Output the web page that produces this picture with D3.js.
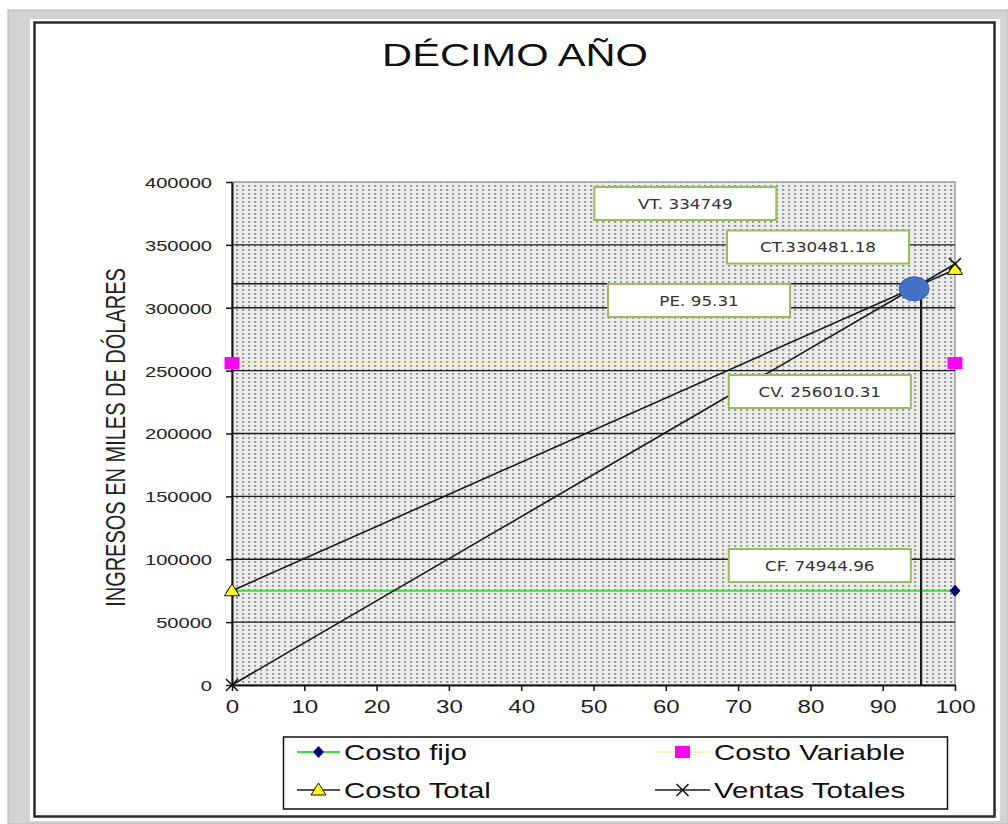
<!DOCTYPE html>
<html><head><meta charset="utf-8">
<script src="https://cdn.jsdelivr.net/npm/d3@7"></script>
<style>html,body{margin:0;padding:0;background:#fff}svg{display:block}</style>
</head><body>
<svg id="chart" width="1008" height="824"></svg>
<script>
// Punto de equilibrio, décimo año (miles de dólares)
const porcentajeVentas = [0, 100];
const costoFijo = [74944.96, 74944.96];
const costoVariable = [256010.31, 256010.31];
const costoTotal = [74944.96, 330481.18];
const ventasTotales = [0, 334749];
const puntoEquilibrioPct = 95.31;
const puntoEquilibrioIngreso = 319049;
const yTicks = [0, 50000, 100000, 150000, 200000, 250000, 300000, 350000, 400000];
const xTicks = [0, 10, 20, 30, 40, 50, 60, 70, 80, 90, 100];
const etiquetas = ["VT. 334749", "CT.330481.18", "PE. 95.31", "CV. 256010.31", "CF. 74944.96"];
const nombresSeries = ["Costo fijo", "Costo Variable", "Costo Total", "Ventas Totales"];

const svg = d3.select("#chart");
const FONT = "'Liberation Sans', Arial, sans-serif";
const SX = 1.34; // ensanchamiento horizontal del texto

// marco exterior
svg.append("rect").attr("x", 8).attr("y", 10).attr("width", 1000).attr("height", 814)
  .attr("fill", "#d3d3d3").attr("stroke", "#b8b8b8").attr("stroke-width", 1);
svg.append("rect").attr("x", 30).attr("y", 19).attr("width", 970).attr("height", 802).attr("fill", "#fff");
svg.append("rect").attr("x", 34.5).attr("y", 22.5).attr("width", 960).attr("height", 794)
  .attr("fill", "none").attr("stroke", "#2a2a2a").attr("stroke-width", 2.5);

const x = d3.scaleLinear().domain([0, 100]).range([232, 955]);
const y = d3.scaleLinear().domain([0, 400000]).range([685, 182]);

// trama punteada del área de trazado
const defs = svg.append("defs");
const pat = defs.append("pattern").attr("id", "puntos").attr("patternUnits", "userSpaceOnUse")
  .attr("width", 6).attr("height", 4);
pat.append("rect").attr("width", 6).attr("height", 4).attr("fill", "#ececec");
pat.append("rect").attr("x", 2).attr("y", 1).attr("width", 2.2).attr("height", 1.8).attr("fill", "#939393");

svg.append("rect").attr("x", x(0)).attr("y", y(400000)).attr("width", x(100) - x(0)).attr("height", y(0) - y(400000))
  .attr("fill", "url(#puntos)").attr("stroke", "#9a9a9a").attr("stroke-width", 1.5);

// líneas de cuadrícula
svg.append("g").selectAll("line").data(yTicks.filter(v => v > 0 && v < 400000)).join("line")
  .attr("x1", x(0)).attr("x2", x(100)).attr("y1", d => y(d)).attr("y2", d => y(d))
  .attr("stroke", "#1a1a1a").attr("stroke-width", 1.4);

// ejes
const gy = svg.append("g").attr("transform", `translate(${x(0)},0)`)
  .call(d3.axisLeft(y).tickValues(yTicks).tickSize(6).tickSizeOuter(0).tickFormat(d3.format("d")));
gy.select(".domain").attr("stroke", "#111").attr("stroke-width", 2);
gy.selectAll(".tick line").attr("stroke", "#111").attr("stroke-width", 1.5);
gy.selectAll(".tick text").attr("font-family", FONT).attr("font-size", 15).attr("fill", "#222")
  .attr("x", -20 / SX).attr("dy", "0.36em").attr("transform", `scale(${SX},1)`);

const gx = svg.append("g").attr("transform", `translate(0,${y(0)})`)
  .call(d3.axisBottom(x).tickValues(xTicks).tickSize(6).tickSizeOuter(0));
gx.select(".domain").attr("stroke", "#111").attr("stroke-width", 2);
gx.selectAll(".tick line").attr("stroke", "#111").attr("stroke-width", 1.5);
gx.selectAll(".tick text").attr("font-family", FONT).attr("font-size", 18).attr("fill", "#222")
  .attr("y", 28).attr("dy", "0").attr("transform", `scale(${SX},1)`);

// series
const series = [
  { nombre: nombresSeries[0], valores: costoFijo, color: "#2ee82e", ancho: 2, marca: "rombo" },
  { nombre: nombresSeries[1], valores: costoVariable, color: "#f4f07a", ancho: 1.2, marca: "cuadrado" },
  { nombre: nombresSeries[2], valores: costoTotal, color: "#1a1a1a", ancho: 1.6, marca: "triangulo" },
  { nombre: nombresSeries[3], valores: ventasTotales, color: "#1a1a1a", ancho: 1.6, marca: "equis" }
];
const linea = d3.line().x(d => x(d[0])).y(d => y(d[1]));
series.forEach(s => {
  svg.append("path").datum(porcentajeVentas.map((p, i) => [p, s.valores[i]]))
    .attr("d", linea).attr("fill", "none").attr("stroke", s.color).attr("stroke-width", s.ancho);
});

// punto de equilibrio: guías
svg.append("line").attr("x1", x(0)).attr("x2", x(puntoEquilibrioPct))
  .attr("y1", y(puntoEquilibrioIngreso)).attr("y2", y(puntoEquilibrioIngreso))
  .attr("stroke", "#1a1a1a").attr("stroke-width", 1.6);
svg.append("line").attr("x1", x(puntoEquilibrioPct)).attr("x2", x(puntoEquilibrioPct))
  .attr("y1", y(puntoEquilibrioIngreso)).attr("y2", y(0))
  .attr("stroke", "#1a1a1a").attr("stroke-width", 2.2);

// cuadros de texto (centro en coordenadas de datos)
const cuadros = [
  { texto: etiquetas[0], cx: 62.7, cy: 382900 },
  { texto: etiquetas[1], cx: 81.05, cy: 348300 },
  { texto: etiquetas[2], cx: 64.6, cy: 305800 },
  { texto: etiquetas[3], cx: 81.3, cy: 233400 },
  { texto: etiquetas[4], cx: 81.3, cy: 95000 }
];
const gc = svg.append("g").selectAll("g").data(cuadros).join("g")
  .attr("transform", d => `translate(${x(d.cx)},${y(d.cy)})`);
gc.append("rect").attr("x", -91).attr("y", -16.5).attr("width", 182).attr("height", 33)
  .attr("fill", "#fff").attr("stroke", "#9bbb59").attr("stroke-width", 2);
gc.append("text").text(d => d.texto).attr("text-anchor", "middle").attr("dy", "0.36em")
  .attr("font-family", "'DejaVu Sans', Verdana, sans-serif").attr("font-size", 14).attr("fill", "#333")
  .attr("transform", "scale(1.2,1)");

// marcadores
function marcador(g, tipo, cx, cy) {
  const m = g.append("g").attr("transform", `translate(${cx},${cy})`);
  if (tipo === "rombo") m.append("path").attr("d", "M0,-6L5.5,0L0,6L-5.5,0Z").attr("fill", "#000080");
  if (tipo === "cuadrado") m.append("rect").attr("x", -7.5).attr("y", -6).attr("width", 15).attr("height", 12).attr("fill", "#ff00ff");
  if (tipo === "triangulo") m.append("path").attr("d", "M0,-7L7.5,5L-7.5,5Z").attr("fill", "#ffff00").attr("stroke", "#111").attr("stroke-width", 1);
  if (tipo === "equis") m.append("path").attr("d", "M-6,-6L6,6M-6,6L6,-6").attr("stroke", "#111").attr("stroke-width", 1.5);
}
const gm = svg.append("g");
series.forEach(s => porcentajeVentas.forEach((p, i) => marcador(gm, s.marca, x(p), y(s.valores[i]))));

// punto de equilibrio
svg.append("ellipse").attr("cx", x(puntoEquilibrioPct) - 7).attr("cy", y(puntoEquilibrioIngreso) + 5)
  .attr("rx", 15).attr("ry", 12).attr("fill", "#4472c4").attr("stroke", "#3560ad").attr("stroke-width", 1);

// título
svg.append("text").text("DÉCIMO AÑO").attr("font-family", FONT).attr("font-size", 32).attr("fill", "#111")
  .attr("text-anchor", "middle").attr("transform", `translate(515,66) scale(1.3,1)`);

// título del eje vertical
svg.append("text").text("INGRESOS EN MILES DE DÓLARES").attr("font-family", FONT).attr("font-size", 20)
  .attr("fill", "#222").attr("text-anchor", "middle").attr("dy", "0.36em")
  .attr("transform", `translate(115,${(y(0) + y(400000)) / 2 + 4}) scale(${SX},1) rotate(-90)`);

// leyenda
svg.append("rect").attr("x", 283.5).attr("y", 737).attr("width", 664).attr("height", 72)
  .attr("fill", "#fff").attr("stroke", "#111").attr("stroke-width", 1.5);
const posLeyenda = [[297, 340, 752], [655, 710, 752], [297, 340, 790], [655, 710, 790]];
series.forEach((s, i) => {
  const [x1, x2, yy] = posLeyenda[i];
  const g = svg.append("g");
  g.append("line").attr("x1", x1).attr("x2", x2).attr("y1", yy).attr("y2", yy)
    .attr("stroke", s.color).attr("stroke-width", s.ancho);
  marcador(g, s.marca, (x1 + x2) / 2, yy);
  g.append("text").text(s.nombre).attr("font-family", FONT).attr("font-size", 22).attr("fill", "#111")
    .attr("transform", `translate(${x2 + 4},${yy + 8}) scale(${SX},1)`);
});
</script>
</body></html>
